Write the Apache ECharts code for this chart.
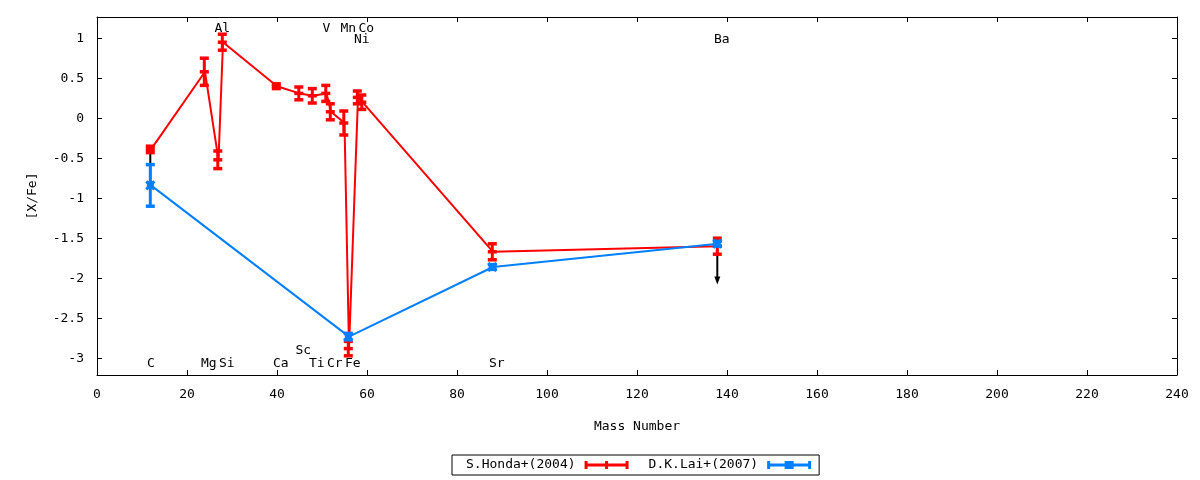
<!DOCTYPE html>
<html><head><meta charset="utf-8">
<script src="https://cdn.jsdelivr.net/npm/echarts@6/dist/echarts.min.js"></script>
<style>html,body{margin:0;padding:0;background:#fff}#c{width:1200px;height:480px}</style>
</head><body><div id="c"></div>
<script>
// ---- data ----
const hondaMass = [12, 24, 27, 28, 40, 45, 48, 51, 52, 55, 56, 58, 59, 88, 138];
const hondaVal  = [-0.39, 0.58, -0.52, 0.95, 0.40, 0.31, 0.28, 0.31, 0.08, -0.06, -2.88, 0.26, 0.20, -1.67, -1.60];
const hondaErr  = [0.04, 0.17, 0.11, 0.10, 0.03, 0.08, 0.09, 0.10, 0.10, 0.15, 0.09, 0.08, 0.09, 0.10, 0.10];

const laiMass = [12, 56, 88, 138];
const laiVal  = [-0.84, -2.73, -1.86, -1.57];
const laiErr  = [0.26, 0.04, 0.03, 0.03];

const arrowMass = [12, 138];
const arrowFrom = [-0.39, -1.60];
const arrowTo   = [-0.89, -2.08];

const elemNames = ['C','Mg','Al','Si','Ca','Sc','Ti','V','Cr','Mn','Fe','Co','Ni','Sr','Ba'];
const elemMass  = [12, 24, 27, 28, 40, 45, 48, 51, 52, 55, 56, 59, 58, 88, 138];
const elemY     = [-3.07, -3.07, 1.115, -3.07, -3.07, -2.9, -3.07, 1.115, -3.07, 1.115, -3.07, 1.115, 0.985, -3.07, 0.985];

const yTicks = [-3, -2.5, -2, -1.5, -1, -0.5, 0, 0.5, 1];
const seriesNames = ['S.Honda+(2004)', 'D.K.Lai+(2007)'];

// ---- styles ----
const FONT = 'DejaVu Sans Mono';
const RED = '#ff0000', BLUE = '#0080ff';

function errRender(color, marker) {
  return function (params, api) {
    const x = api.value(0), y = api.value(1), e = api.value(2);
    const c = api.coord([x, y]), hi = api.coord([x, y + e]), lo = api.coord([x, y - e]);
    const cx = c[0] - 0.7;
    const st = { stroke: color, lineWidth: 3, fill: null };
    const cap = { stroke: color, lineWidth: 3.5, fill: null };
    const ch = [
      { type: 'line', shape: { x1: cx, y1: hi[1], x2: cx, y2: lo[1] }, style: st },
      { type: 'line', shape: { x1: cx - 4.5, y1: hi[1], x2: cx + 4.5, y2: hi[1] }, style: cap },
      { type: 'line', shape: { x1: cx - 4.5, y1: lo[1], x2: cx + 4.5, y2: lo[1] }, style: cap }
    ];
    if (marker === 'plus') {
      ch.push({ type: 'line', shape: { x1: cx - 4.5, y1: c[1], x2: cx + 4.5, y2: c[1] }, style: cap });
    } else {
      ch.push({ type: 'line', shape: { x1: cx - 4, y1: c[1] - 4, x2: cx + 4, y2: c[1] + 4 }, style: st });
      ch.push({ type: 'line', shape: { x1: cx - 4, y1: c[1] + 4, x2: cx + 4, y2: c[1] - 4 }, style: st });
      ch.push({ type: 'rect', shape: { x: cx - 3.5, y: c[1] - 3.5, width: 7, height: 7 }, style: { fill: color } });
    }
    return { type: 'group', children: ch };
  };
}

function arrowRender(params, api) {
  const x = api.value(0);
  const a = api.coord([x, api.value(1)]), b = api.coord([x, api.value(2)]);
  const cx = a[0] - 0.7;
  return { type: 'group', children: [
    { type: 'line', shape: { x1: cx, y1: a[1], x2: cx, y2: b[1] - 4 }, style: { stroke: '#000', lineWidth: 2 } },
    { type: 'polygon', shape: { points: [[cx, b[1]], [cx - 3, b[1] - 8], [cx + 3, b[1] - 8]] }, style: { fill: '#000' } }
  ]};
}

function labelRender(params, api) {
  const p = api.coord([api.value(0), api.value(1)]);
  return { type: 'text', x: p[0] - 4, y: p[1],
    style: { text: elemNames[params.dataIndex], fill: '#000', font: '13px "' + FONT + '"',
             textAlign: 'left', textVerticalAlign: 'middle' } };
}

const hondaLine = hondaMass.map((m, i) => [m, hondaVal[i]]);
const hondaErrData = hondaMass.map((m, i) => [m, hondaVal[i], hondaErr[i]]);
const laiLine = laiMass.map((m, i) => [m, laiVal[i]]);
const laiErrData = laiMass.map((m, i) => [m, laiVal[i], laiErr[i]]);
const arrowData = arrowMass.map((m, i) => [m, arrowFrom[i], arrowTo[i]]);
const labelData = elemMass.map((m, i) => [m, elemY[i]]);

const axisCommon = {
  axisLine: { onZero: false, lineStyle: { color: '#000', width: 1 } },
  axisTick: { inside: true, length: 5, lineStyle: { color: '#000' } },
  splitLine: { show: false }
};

const chart = echarts.init(document.getElementById('c'), null, { renderer: 'canvas' });
chart.setOption({
  animation: false,
  backgroundColor: '#fff',
  textStyle: { fontFamily: FONT, fontSize: 13, color: '#000' },
  grid: { left: 97, right: 23, top: 17, bottom: 105, containLabel: false, outerBoundsMode: 'none' },
  legend: {
    left: 452, top: 455,
    orient: 'horizontal',
    align: 'right',
    itemWidth: 44, itemHeight: 8, itemGap: 20,
    padding: [2, 8, 2, 14],
    borderColor: '#000', borderWidth: 1,
    textStyle: { fontFamily: FONT, fontSize: 13, color: '#000', lineHeight: 16, padding: [0, 4, 0, 0] },
    data: [
      { name: seriesNames[0], icon: 'path://M0,2.5H44V5.5H0Z M0,0H3V8H0Z M41,0H44V8H41Z M20.5,0H23.5V8H20.5Z' },
      { name: seriesNames[1], icon: 'path://M0,2.5H44V5.5H0Z M0,0H3V8H0Z M41,0H44V8H41Z M17.5,0H26.5V8H17.5Z' }
    ]
  },
  xAxis: [
    Object.assign({}, axisCommon, {
      type: 'value', min: 0, max: 240, interval: 20, position: 'bottom',
      axisLabel: { color: '#000', fontFamily: FONT, fontSize: 13, margin: 13, showMinLabel: true, showMaxLabel: true },
      name: 'Mass Number', nameLocation: 'middle', nameGap: 45,
      nameTextStyle: { fontFamily: FONT, fontSize: 13, color: '#000' }
    }),
    Object.assign({}, axisCommon, {
      type: 'value', min: 0, max: 240, interval: 20, position: 'top',
      axisLabel: { show: false }
    })
  ],
  yAxis: [
    Object.assign({}, axisCommon, {
      type: 'value', min: -3.21, max: 1.265, position: 'left',
      axisTick: { inside: true, length: 5, lineStyle: { color: '#000' }, customValues: yTicks },
      axisLabel: { color: '#000', fontFamily: FONT, fontSize: 13, margin: 13, customValues: yTicks },
      name: '[X/Fe]', nameLocation: 'middle', nameGap: 58, nameRotate: 90,
      nameTextStyle: { fontFamily: FONT, fontSize: 13, color: '#000' }
    }),
    Object.assign({}, axisCommon, {
      type: 'value', min: -3.21, max: 1.265, position: 'right',
      axisTick: { inside: true, length: 5, lineStyle: { color: '#000' }, customValues: yTicks },
      axisLabel: { show: false, customValues: yTicks }
    })
  ],
  series: [
    { type: 'custom', name: 'arrows', renderItem: arrowRender, data: arrowData,
      encode: { x: 0, y: [1, 2] }, z: 1, silent: true },
    { type: 'line', name: seriesNames[0], data: hondaLine, symbol: 'none',
      lineStyle: { color: RED, width: 2 }, itemStyle: { color: RED }, z: 2 },
    { type: 'custom', name: seriesNames[0], renderItem: errRender(RED, 'plus'), data: hondaErrData,
      encode: { x: 0, y: 1 }, itemStyle: { color: RED }, z: 3 },
    { type: 'line', name: seriesNames[1], data: laiLine, symbol: 'none',
      lineStyle: { color: BLUE, width: 2 }, itemStyle: { color: BLUE }, z: 4 },
    { type: 'custom', name: seriesNames[1], renderItem: errRender(BLUE, 'box'), data: laiErrData,
      encode: { x: 0, y: 1 }, itemStyle: { color: BLUE }, z: 5 },
    { type: 'custom', name: 'labels', renderItem: labelRender, data: labelData,
      encode: { x: 0, y: 1 }, z: 6, silent: true }
  ]
});
</script>
</body></html>
